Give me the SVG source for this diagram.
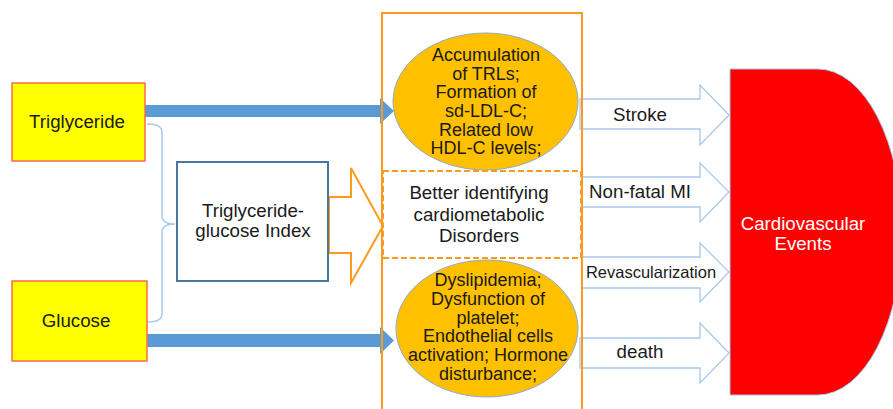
<svg xmlns="http://www.w3.org/2000/svg" width="893" height="409" viewBox="0 0 893 409">
<style>
text{font-family:"Liberation Sans",Arial,sans-serif;font-size:18.7px;fill:#1a1a1a;text-anchor:middle}
.el text{font-size:18px}
.src{fill:#FFFF00;stroke:#FF6A4D;stroke-width:1.5}
.blue{fill:#5B9BD5}
.hollow{fill:#fff;stroke:#A9C8EA;stroke-width:1.3}
.ell{fill:#FFC000;stroke:#8FAACC;stroke-width:1}
.org{fill:none;stroke:#FF9A1F;stroke-width:2}
</style>
<rect width="893" height="409" fill="#fff"/>
<g id="connectors">
<polygon class="blue" points="145,105 380,105 380,98 394,111 380,124 380,117 145,117"/>
<polygon class="blue" points="147,334 380,334 380,327 394,340.5 380,354 380,347 147,347"/>
<path d="M147,124 Q162,124 162,132 L162,216 Q162,224 175,224 Q162,224 162,232 L162,314 Q162,322 147,322" fill="none" stroke="#A9C8EA" stroke-width="1.5"/>
<polygon points="329,197 351,197 351,168 383,226 351,283 351,253 329,253" fill="#fff" stroke="#FF9A1F" stroke-width="2"/>
<polygon class="hollow" points="580,99 700,99 700,85 729,115 700,145 700,129 580,129"/>
<polygon class="hollow" points="582,177 700,177 700,163 729,192 700,222 700,207 582,207"/>
<polygon class="hollow" points="582,257 700,257 700,243 729,272 700,302 700,288 582,288"/>
<polygon class="hollow" points="580,338 700,338 700,323 729,353 700,383 700,368 580,368"/>
<text x="640" y="121">Stroke</text>
<text x="640" y="198">Non-fatal MI</text>
<text x="651" y="278" style="font-size:16.5px">Revascularization</text>
<text x="640" y="358">death</text>
</g>
<g id="container">
<rect class="org" x="382" y="13" width="200" height="410"/>
</g>
<g id="triglyceride">
<rect class="src" x="12" y="83" width="133" height="78"/>
<text x="77" y="128">Triglyceride</text>
</g>
<g id="glucose">
<rect class="src" x="12" y="281" width="135" height="80"/>
<text x="76" y="327">Glucose</text>
</g>
<g id="tyg">
<rect x="177" y="162" width="151" height="119" fill="#fff" stroke="#4A76A0" stroke-width="2"/>
<text x="253" y="217">Triglyceride-</text>
<text x="253" y="237">glucose Index</text>
</g>
<g id="mech-top" class="el">
<ellipse class="ell" cx="485.5" cy="101.5" rx="92.5" ry="68.5"/>
<text x="486" y="61">Accumulation</text>
<text x="486" y="79.5">of TRLs;</text>
<text x="486" y="98">Formation of</text>
<text x="486" y="117">sd-LDL-C;</text>
<text x="486" y="135.5">Related low</text>
<text x="486" y="154">HDL-C levels;</text>
</g>
<g id="better">
<rect x="383" y="171" width="198" height="87" fill="#fff" stroke="#FF9A1F" stroke-width="2" stroke-dasharray="6,3"/>
<text x="479" y="199">Better identifying</text>
<text x="479" y="221">cardiometabolic</text>
<text x="479" y="242">Disorders</text>
</g>
<g id="mech-bottom" class="el">
<ellipse class="ell" cx="487" cy="328.5" rx="91" ry="68.5"/>
<text x="488" y="286">Dyslipidemia;</text>
<text x="488" y="305">Dysfunction of</text>
<text x="488" y="323.5">platelet;</text>
<text x="488" y="342">Endothelial cells</text>
<text x="488" y="361">activation; Hormone</text>
<text x="488" y="380">disturbance;</text>
</g>
<g id="cv-events">
<path d="M730,69 L818,69 A84,163 0 0 1 818,395 L730,395 Z" fill="#FF0000" stroke="#A9C8EA" stroke-width="1"/>
<text x="803" y="230" style="fill:#fff">Cardiovascular</text>
<text x="803" y="250" style="fill:#fff">Events</text>
</g>
</svg>
